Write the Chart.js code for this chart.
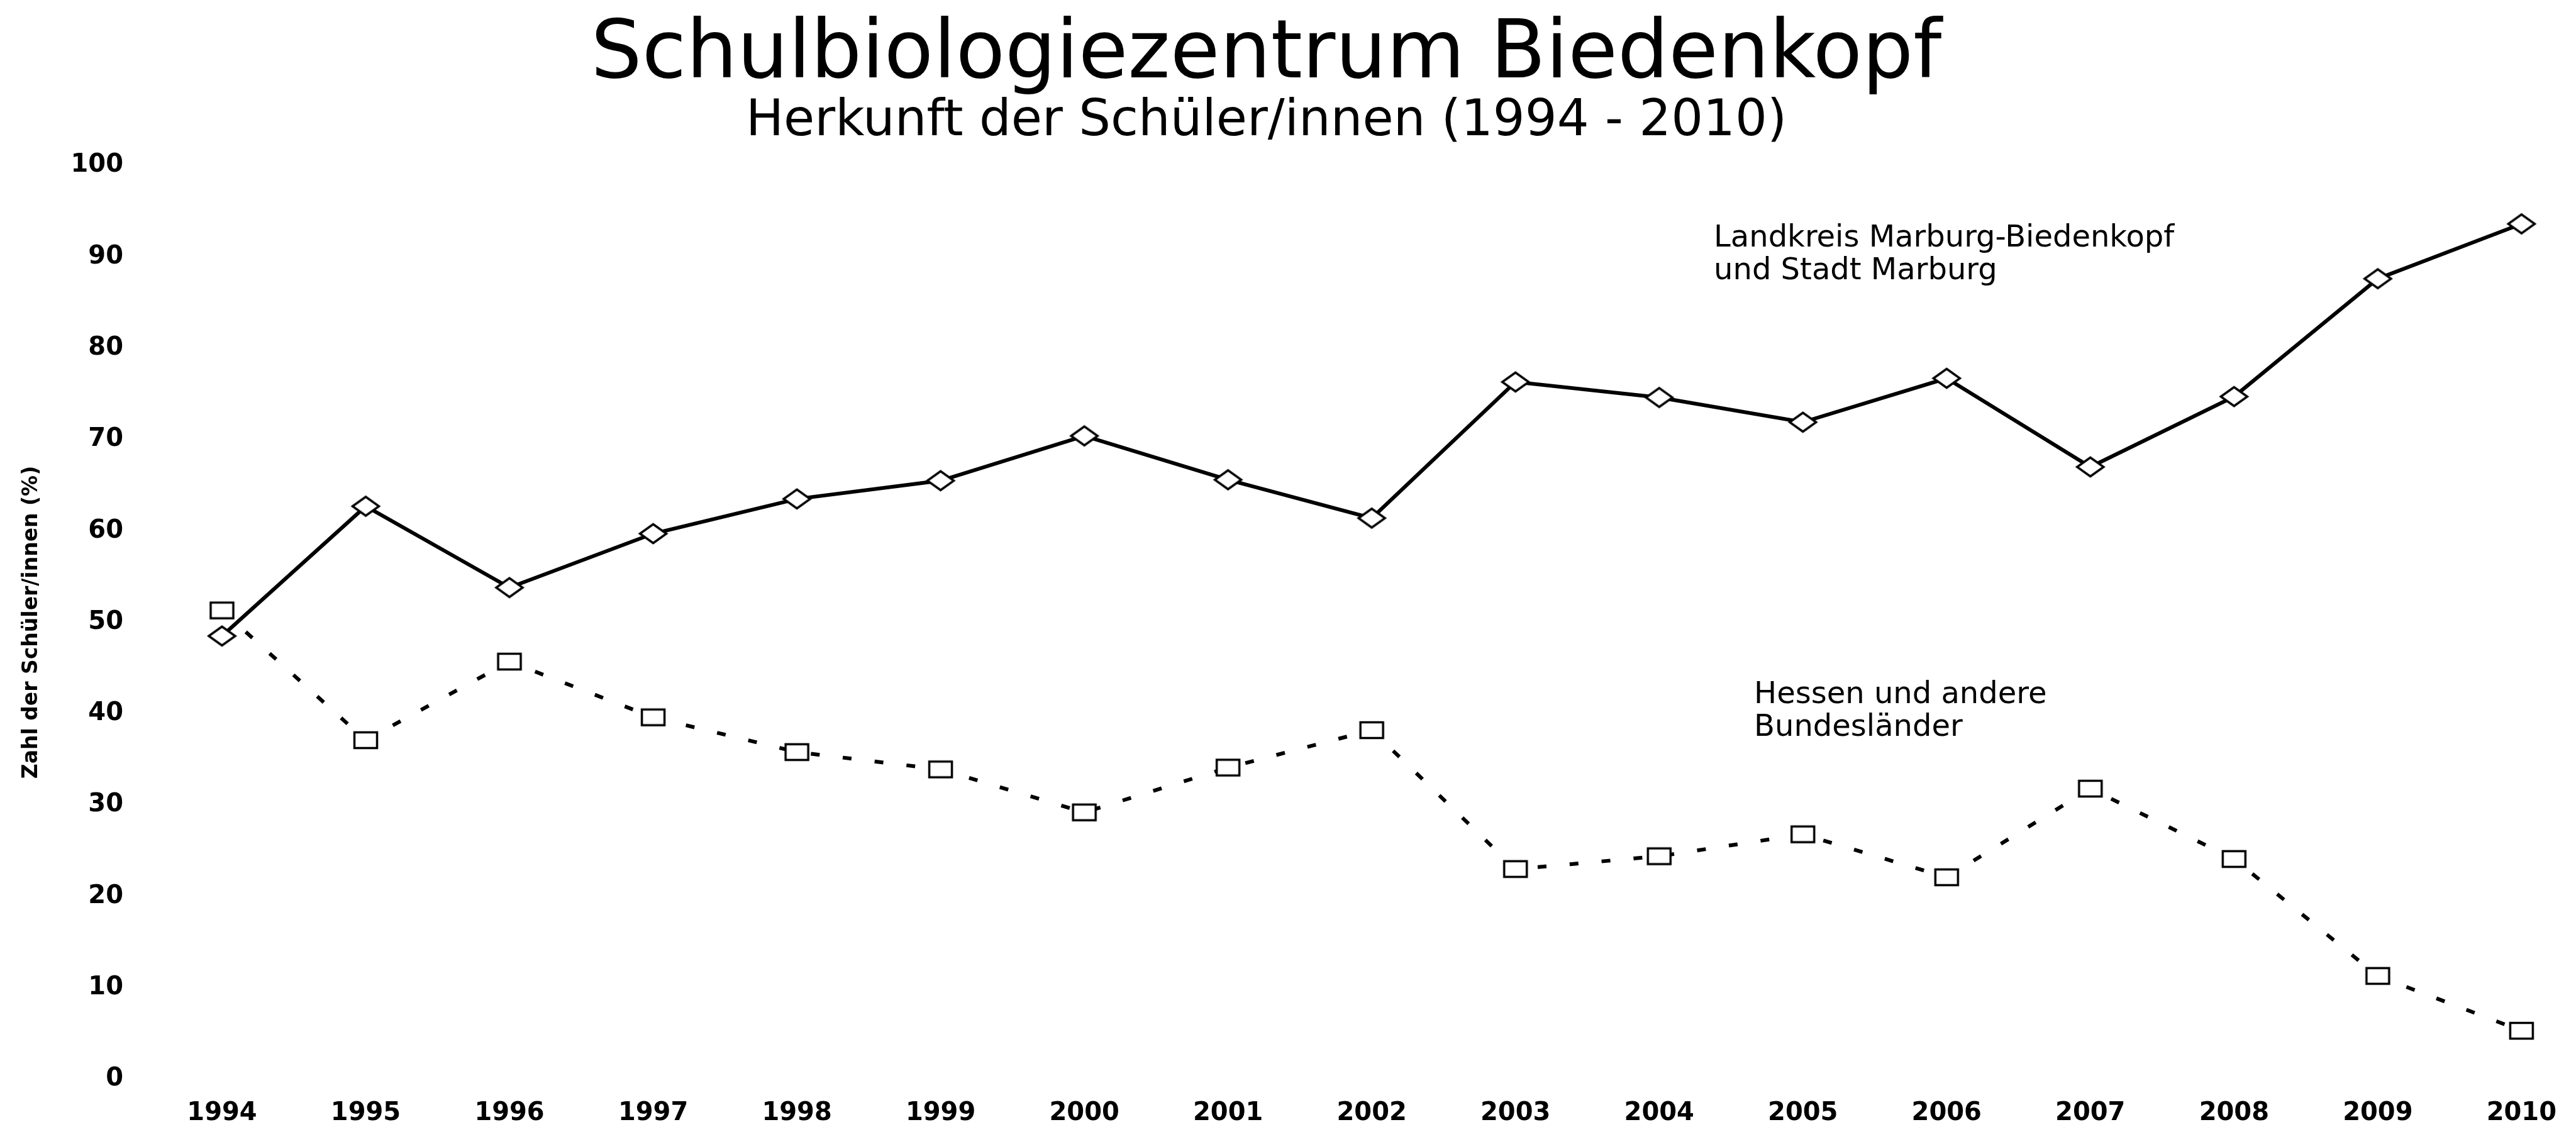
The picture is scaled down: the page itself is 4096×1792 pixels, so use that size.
<!DOCTYPE html>
<html>
<head>
<meta charset="utf-8">
<script src="https://cdn.jsdelivr.net/npm/chart.js@4.4.1/dist/chart.umd.min.js"></script>
<style>
html,body{margin:0;padding:0;background:#fff;overflow:hidden}
canvas{display:block}
</style>
</head>
<body>
<canvas id="c" width="4096" height="1792"></canvas>
<script>
// ---- data ----
const years = ['1994','1995','1996','1997','1998','1999','2000','2001','2002','2003','2004','2005','2006','2007','2008','2009','2010'];
const landkreisMarburg = [48.5, 62.7, 53.8, 59.7, 63.5, 65.5, 70.4, 65.6, 61.4, 76.3, 74.6, 71.9, 76.7, 67.0, 74.7, 87.6, 93.6];
const hessenAndere     = [51.3, 37.1, 45.7, 39.6, 35.8, 33.9, 29.2, 34.1, 38.2, 23.0, 24.4, 26.8, 22.1, 31.8, 24.1, 11.3, 5.3];
const yMin = 0, yMax = 100, yStep = 10;
const titleText = 'Schulbiologiezentrum Biedenkopf';
const subtitleText = 'Herkunft der Schüler/innen (1994 - 2010)';
const yAxisTitle = 'Zahl der Schüler/innen (%)';
const seriesNotes = [
  { lines: ['Landkreis Marburg-Biedenkopf', 'und Stadt Marburg'], xIndex: 10.38, yValue: 92.0 },
  { lines: ['Hessen und andere', 'Bundesländer'], xIndex: 10.66, yValue: 42.0 }
];

// ---- marker images ----
function makeMarker(kind, w, h, lw) {
  const c = document.createElement('canvas');
  c.width = Math.ceil(w + lw * 2);
  c.height = Math.ceil(h + lw * 2);
  const g = c.getContext('2d');
  g.lineWidth = lw; g.strokeStyle = '#000'; g.fillStyle = '#fff';
  g.lineJoin = 'miter';
  const cx = c.width / 2, cy = c.height / 2;
  g.beginPath();
  if (kind === 'diamond') {
    g.moveTo(cx - w / 2, cy); g.lineTo(cx, cy - h / 2);
    g.lineTo(cx + w / 2, cy); g.lineTo(cx, cy + h / 2); g.closePath();
  } else {
    g.rect(cx - w / 2, cy - h / 2, w, h);
  }
  g.fill(); g.stroke();
  return c;
}
const diamond = makeMarker('diamond', 42, 30, 3.5);
const square = makeMarker('square', 36, 25, 3.5);

const notesPlugin = {
  id: 'seriesNotes',
  afterDatasetsDraw(chart) {
    const { ctx, scales: { x, y } } = chart;
    ctx.save();
    ctx.fillStyle = '#000';
    ctx.font = '48px "DejaVu Sans"';
    ctx.textAlign = 'left';
    ctx.textBaseline = 'middle';
    seriesNotes.forEach(n => {
      const px = x.getPixelForValue(n.xIndex);
      const py = y.getPixelForValue(n.yValue);
      n.lines.forEach((t, i) => ctx.fillText(t, px, py + i * 52));
    });
    ctx.restore();
  }
};

Chart.defaults.font.family = '"DejaVu Sans", sans-serif';
Chart.defaults.color = '#000';

new Chart(document.getElementById('c'), {
  type: 'line',
  data: {
    labels: years,
    datasets: [
      {
        label: 'Landkreis Marburg-Biedenkopf und Stadt Marburg',
        data: landkreisMarburg,
        borderColor: '#000',
        borderWidth: 6,
        pointStyle: diamond,
        tension: 0,
        clip: false
      },
      {
        label: 'Hessen und andere Bundesländer',
        data: hessenAndere,
        borderColor: '#000',
        borderWidth: 6,
        borderDash: [14, 37],
        borderCapStyle: 'butt',
        pointStyle: square,
        tension: 0,
        clip: false
      }
    ]
  },
  options: {
    responsive: false,
    devicePixelRatio: 1,
    animation: false,
    layout: { padding: { left: 0, right: 69, top: 0, bottom: 0 } },
    plugins: {
      legend: { display: false },
      tooltip: { enabled: false },
      title: {
        display: true,
        text: titleText,
        color: '#000',
        font: { size: 128, weight: 'normal', lineHeight: 1.0 },
        padding: { top: 26, bottom: 0 }
      },
      subtitle: {
        display: true,
        text: subtitleText,
        color: '#000',
        font: { size: 80, weight: 'normal', lineHeight: 1.0 },
        padding: { top: 0, bottom: 29 }
      }
    },
    scales: {
      x: {
        type: 'category',
        offset: false,
        grid: { display: false, drawTicks: false },
        border: { display: false },
        afterFit: (s) => { s.height = 76; },
        ticks: {
          color: '#000',
          font: { size: 40, weight: 'bold' },
          padding: 31,
          maxRotation: 0,
          autoSkip: false
        }
      },
      y: {
        min: yMin,
        max: yMax,
        grid: { display: false, drawTicks: false },
        border: { display: false },
        afterFit: (s) => { s.width = 353; s.paddingTop = 0; s.paddingBottom = 0; },
        ticks: {
          stepSize: yStep,
          color: '#000',
          font: { size: 40, weight: 'bold' },
          padding: 157
        },
        title: {
          display: true,
          text: yAxisTitle,
          color: '#000',
          font: { size: 33, weight: 'bold', lineHeight: 1.0 },
          padding: { top: 34, bottom: 46 }
        }
      }
    }
  },
  plugins: [notesPlugin]
});
</script>
</body>
</html>
